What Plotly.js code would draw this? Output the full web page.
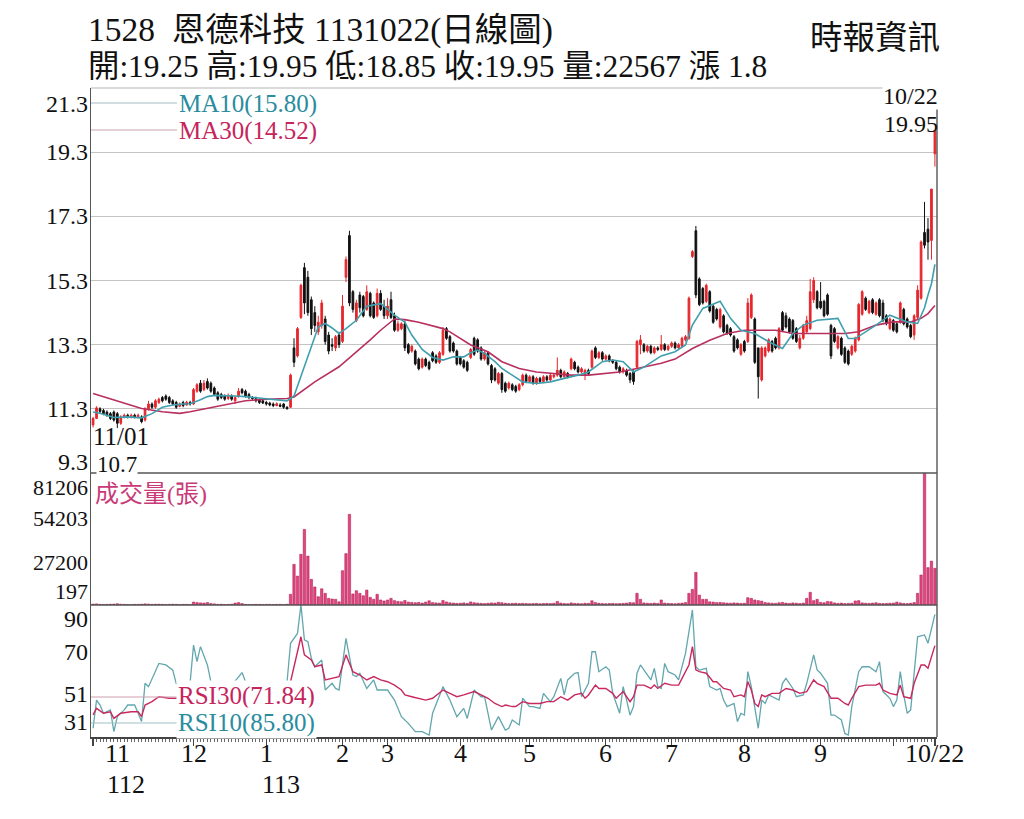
<!DOCTYPE html>
<html><head><meta charset="utf-8">
<script src="https://cdn.plot.ly/plotly-3.0.1.min.js"></script>
<style>html,body{margin:0;padding:0;background:#fff}#chart{width:1024px;height:819px}</style>
</head><body><div id="chart"></div>
<script>
// ---------- DATA ----------
const openP = [10.80,11.00,11.30,11.25,11.20,11.15,11.20,11.15,10.85,11.05,11.10,11.05,11.10,11.05,11.05,10.95,11.30,11.45,11.35,11.50,11.65,11.70,11.65,11.55,11.50,11.38,11.50,11.42,11.50,11.45,
11.85,12.10,11.90,12.15,12.10,11.95,11.80,11.75,11.70,11.62,11.70,11.55,11.68,11.90,11.85,11.75,11.65,11.62,11.58,11.55,11.50,11.48,11.45,11.40,11.42,11.45,11.35,11.35,13.20,12.95,
14.15,15.70,15.40,14.70,14.30,13.70,13.90,14.10,13.60,13.30,13.20,13.60,13.40,15.40,16.70,14.95,14.05,14.85,14.80,14.40,14.90,14.60,14.20,14.90,14.50,14.20,14.70,14.20,13.75,13.80,
13.95,13.30,13.10,13.10,12.85,12.60,12.85,12.75,13.05,12.95,12.75,13.00,13.80,13.55,13.35,13.10,12.90,12.80,12.75,12.90,13.50,13.45,13.20,12.85,13.05,12.65,12.55,12.10,12.40,12.10,
11.95,12.05,12.00,11.90,12.05,12.35,12.15,12.30,12.10,12.25,12.15,12.30,12.20,12.30,12.35,12.50,12.30,12.40,12.55,12.75,12.60,12.45,12.35,12.50,12.60,13.20,12.90,13.05,12.85,12.95,
12.80,12.75,12.60,12.45,12.50,12.40,12.45,12.60,13.30,13.30,13.10,13.25,13.05,13.20,13.15,13.30,13.15,13.25,13.35,13.20,13.25,13.45,13.50,16.05,16.85,15.35,15.05,14.65,14.95,14.50,
14.40,13.85,14.20,13.90,13.80,13.55,13.45,13.00,13.40,13.40,14.15,14.10,13.20,12.20,12.95,13.10,13.40,13.50,13.20,14.30,14.20,14.10,14.05,13.80,13.20,13.50,13.70,13.80,14.70,14.95,
14.65,14.65,14.85,13.90,13.80,13.20,13.50,13.20,13.10,13.00,13.10,13.45,14.25,14.75,14.30,14.70,14.25,14.70,14.60,14.20,13.80,14.05,13.95,14.00,14.40,14.10,13.90,13.60,14.15,14.75,
16.80,16.90,16.55,19.25];
const highP = [11.05,11.38,11.35,11.30,11.25,11.20,11.25,11.20,11.10,11.15,11.15,11.15,11.15,11.15,11.10,11.35,11.55,11.50,11.60,11.65,11.70,11.75,11.70,11.60,11.55,11.50,11.55,11.55,11.55,11.95,
12.10,12.20,12.20,12.25,12.15,12.00,11.85,11.80,11.75,11.78,11.75,11.70,11.95,11.95,11.90,11.80,11.70,11.68,11.62,11.60,11.55,11.52,11.50,11.50,11.48,11.48,11.38,12.40,13.50,13.85,
15.20,15.85,15.60,14.80,14.50,14.20,14.70,14.20,13.70,13.50,13.60,13.70,14.85,16.05,16.85,15.00,14.70,14.95,14.85,15.15,14.95,14.65,15.05,15.00,14.70,14.75,14.95,14.30,14.05,14.00,
14.05,13.35,13.30,13.15,12.90,12.90,12.90,12.80,13.10,13.00,13.10,13.85,13.85,13.60,13.40,13.15,12.95,12.85,12.80,13.20,13.55,13.50,13.25,13.10,13.10,12.70,12.60,12.45,12.45,12.15,
12.15,12.10,12.05,12.10,12.40,12.40,12.35,12.35,12.30,12.30,12.35,12.35,12.40,12.40,12.90,12.55,12.50,12.45,12.90,12.80,12.65,12.60,12.55,12.55,13.15,13.25,13.10,13.10,13.00,13.00,
12.85,12.80,12.65,12.60,12.55,12.45,12.50,13.45,13.60,13.35,13.30,13.30,13.25,13.25,13.60,13.35,13.30,13.40,13.40,13.35,13.55,13.60,14.80,16.25,17.00,15.40,15.10,15.20,15.00,14.55,
14.45,14.45,14.25,13.95,13.85,13.60,13.50,13.35,13.45,14.75,14.90,14.15,13.20,13.25,13.25,13.50,13.45,13.55,13.85,14.35,14.30,14.15,14.10,13.85,13.60,13.95,14.20,15.35,15.40,15.00,
15.25,14.70,14.90,13.95,13.85,13.60,13.55,13.25,13.15,13.30,13.55,14.60,15.00,14.80,14.70,14.75,14.65,14.75,14.70,14.25,14.15,14.10,14.00,14.65,14.45,14.15,13.95,14.25,15.15,16.55,
17.75,17.25,18.15,19.95];
const lowP = [10.72,10.98,11.15,11.10,11.05,10.95,10.90,10.70,10.80,11.00,11.00,11.00,11.00,11.00,10.85,10.90,11.25,11.30,11.30,11.45,11.50,11.55,11.45,11.40,11.30,11.35,11.35,11.40,11.40,11.42,
11.80,11.80,11.85,11.90,11.80,11.70,11.55,11.60,11.55,11.58,11.55,11.45,11.65,11.75,11.65,11.60,11.58,11.50,11.45,11.45,11.40,11.38,11.35,11.38,11.35,11.30,11.28,11.33,12.60,12.90,
14.10,14.25,14.20,13.60,13.70,13.60,13.80,13.30,13.00,13.10,13.10,13.20,13.35,15.25,14.50,14.30,14.00,14.30,14.15,14.35,14.15,14.10,14.15,14.35,14.10,14.10,14.10,13.70,13.70,13.75,
13.10,13.00,13.05,12.65,12.50,12.55,12.60,12.50,12.75,12.70,12.70,12.95,13.45,13.05,13.05,12.65,12.65,12.55,12.45,12.85,12.95,13.05,12.80,12.80,12.65,12.10,12.15,12.05,11.80,11.80,
11.90,11.85,11.80,11.85,12.00,12.10,12.10,12.05,12.05,12.10,12.10,12.15,12.15,12.25,12.30,12.25,12.25,12.25,12.50,12.50,12.40,12.40,12.20,12.35,12.55,12.85,12.85,12.80,12.80,12.75,
12.70,12.50,12.40,12.40,12.30,12.10,12.05,12.55,13.00,13.05,13.05,13.00,13.00,13.10,13.10,13.10,13.10,13.20,13.15,13.15,13.20,13.40,13.45,16.00,14.75,14.50,14.55,14.60,14.30,13.95,
14.05,13.80,13.65,13.60,13.55,13.05,13.15,12.95,13.05,13.35,14.10,12.70,11.62,12.15,12.90,13.05,13.05,13.15,13.15,13.70,13.80,13.65,13.45,13.35,13.15,13.45,13.65,13.75,14.60,14.40,
14.40,14.15,14.20,12.85,13.35,13.15,12.95,12.70,12.65,12.95,13.05,13.40,14.20,14.35,14.25,14.25,14.20,14.15,14.00,13.90,13.75,13.70,13.65,13.95,13.90,13.80,13.50,13.45,14.10,14.70,
16.30,15.95,15.95,18.85];
const closeP = [11.00,11.33,11.22,11.15,11.10,11.00,10.95,10.85,11.05,11.10,11.05,11.10,11.05,11.10,10.90,11.30,11.45,11.35,11.55,11.60,11.55,11.60,11.50,11.45,11.35,11.45,11.40,11.50,11.45,11.90,
12.05,11.85,12.10,11.95,11.85,11.75,11.60,11.65,11.60,11.72,11.60,11.65,11.85,11.80,11.70,11.65,11.62,11.55,11.50,11.48,11.45,11.42,11.40,11.46,11.38,11.35,11.30,12.35,12.75,13.80,
15.15,14.60,14.30,13.80,13.90,14.00,14.60,13.40,13.10,13.25,13.55,13.30,14.50,15.95,14.60,14.40,14.60,14.45,14.20,14.95,14.20,14.15,14.90,14.40,14.20,14.50,14.15,13.75,13.95,13.95,
13.20,13.05,13.25,12.70,12.55,12.85,12.65,12.55,12.80,12.75,13.05,13.75,13.50,13.10,13.10,12.70,12.70,12.60,12.50,13.15,13.00,13.10,12.85,13.05,12.70,12.20,12.20,12.40,11.90,11.85,
12.10,11.90,11.85,12.05,12.35,12.15,12.30,12.10,12.25,12.15,12.30,12.20,12.35,12.35,12.50,12.30,12.45,12.30,12.85,12.55,12.45,12.55,12.50,12.40,13.10,12.90,13.05,12.85,12.95,12.80,
12.75,12.55,12.45,12.55,12.35,12.20,12.15,13.40,13.45,13.10,13.25,13.05,13.20,13.15,13.30,13.15,13.25,13.35,13.20,13.30,13.50,13.55,14.75,16.20,14.85,14.55,14.60,15.15,14.35,14.00,
14.10,14.40,13.70,13.65,13.60,13.10,13.20,13.30,13.10,14.60,14.85,12.75,12.30,13.20,13.20,13.45,13.10,13.20,13.80,13.75,13.85,13.70,13.50,13.40,13.50,13.90,14.05,14.95,15.30,14.45,
14.45,14.20,14.25,12.95,13.40,13.55,13.00,12.75,12.70,13.25,13.50,14.55,14.95,14.40,14.65,14.30,14.60,14.20,14.05,13.95,14.10,13.75,13.70,14.60,13.95,13.85,13.55,14.20,15.00,16.50,
16.40,16.50,18.15,19.95];
const volume = [600,700,400,300,400,500,600,800,500,400,300,300,400,400,500,700,600,400,500,500,400,300,400,500,400,300,400,400,300,
1800,1500,1300,1200,1500,900,700, 400,500,300,400,500, 1200,1500,900,
400,300,300,400,400,300,400,400,300,400,400,300,500,
6600,25000,17800,31200,46500,30100,15800,11100,5100,10000,7200,4100,3700,3500,2000,21100,31600,55800,6800,8800,7200,5700,9200,4700,3500,6600,3100,
2500,3100,4100,2700,2200,2000,2800,1800,1600,
1400,1600,1200,1800,2600,1500,1300,1200,2800,1900,1400,1200,1000,1100,1300,1000,1900,1400,1200,1000,900,1100,1300,1200,1700,1400,1100,900,1000,1100,900,
1000,900,800,900,1000,800,900,1000,900,1100,2200,1200,900,800,1300,1000,900,800,1100,1000,2600,1500,1100,900,800,900,1000,800,900,1000,1200,1500,
1400,7200,3500,1300,1100,1000,1200,1000,3100,1200,1000,900,800,1000,1200,1500,
7200,9600,20100,6100,3500,3500,2000,1800,1500,1600,1400,1200,1100,1300,1200,1000,1100,4500,4100,3100,2700,2400,
1500,1300,1100,1000,1400,1600,1200,1000,1300,1100,900,1200,
4100,7800,2700,3500,1600,1400,2200,2000,1300,1000,1200,900,1000,1100,
2500,2700,1300,1100,1000,1200,1400,1000,900,1000,1100,1200,1800,1300,1000,900,1100,1500,
7200,18450,81206,23000,27000,22567];

const ma10Day = [0,2,6,10,14,17,20,23,26,28,31,33,35,38,41,44,47,50,53,56,58,60,63,65,67,69,71,73,76,79,83,84,87,90,92,95,98,101,104,107,109,111,113,116,118,121,124,128,132,136,140,143,147,150,153,156,159,164,168,171,173,176,181,184,187,191,195,199,202,205,209,215,218,220,226,230,235,238,240,241,242,243];
const ma10Val = [11.20,11.16,11.03,11.05,11.02,11.15,11.35,11.42,11.45,11.46,11.58,11.68,11.72,11.72,11.70,11.68,11.65,11.62,11.58,11.55,11.70,12.30,13.20,13.85,13.96,13.82,13.65,13.80,14.06,14.50,14.58,14.50,14.22,14.00,13.60,13.15,12.90,12.82,12.92,12.92,13.05,13.13,13.03,12.77,12.56,12.35,12.14,12.09,12.14,12.25,12.35,12.45,12.77,12.82,12.77,12.45,12.60,12.95,13.08,13.29,13.91,14.43,14.65,14.12,13.75,13.65,13.39,13.18,13.65,13.91,14.06,14.12,13.49,13.49,13.91,14.22,14.01,13.96,14.45,14.85,15.20,15.80];
const ma30Day = [0,6,14,20,25,28,35,40,44,50,56,58,64,71,78,80,83,87,90,94,101,103,109,114,118,123,128,134,138,143,147,152,157,162,164,168,173,178,183,188,193,197,202,207,212,217,221,226,231,236,239,241,243];
const ma30Val = [11.78,11.57,11.31,11.21,11.16,11.21,11.36,11.47,11.55,11.60,11.62,11.67,12.14,12.61,13.25,13.45,13.75,14.10,14.08,14.00,13.80,13.70,13.29,13.08,12.77,12.56,12.45,12.40,12.35,12.35,12.40,12.45,12.56,12.68,12.72,12.85,13.18,13.44,13.65,13.75,13.75,13.75,13.65,13.65,13.65,13.65,13.70,13.91,14.01,14.01,14.12,14.27,14.52];

const rsi10Day = [0,1,2,3,5,6,7,9,10,12,14,15,16,19,21,23,24,26,28,29,30,31,33,34,37,39,41,43,44,48,52,55,56,57,59,60,61,62,63,64,66,67,69,70,71,73,75,76,77,79,81,82,85,87,89,91,93,95,97,98,101,103,105,107,108,110,112,113,115,117,119,120,121,123,124,126,127,129,130,132,133,135,136,137,139,140,141,143,144,145,146,148,149,150,152,153,154,155,156,157,158,160,161,162,163,164,165,166,168,169,170,171,173,174,175,177,178,180,181,182,183,185,186,187,188,189,190,191,192,193,194,195,197,198,199,200,202,203,205,206,208,209,210,212,213,214,216,217,218,219,221,222,224,226,227,228,230,231,232,233,234,235,236,238,240,241,243];
const rsi10Val = [34.9,47.5,45.3,41.6,43.1,33.4,40.1,43.1,45.3,45.3,37.9,55.0,53.5,63.9,63.2,60.9,55.0,54.5,55.0,72.1,64.7,71.4,63.2,55.7,50.0,52.0,56.0,59.8,55.7,50.0,48.0,47.0,55.7,72.9,77.3,90.0,74.4,73.6,66.2,62.4,65.4,52.0,55.0,52.7,52.0,75.1,58.7,58.0,59.5,52.7,56.5,52.0,52.0,47.5,40.1,37.1,33.4,33.4,31.9,41.6,53.5,47.5,40.1,43.8,39.3,52.0,49.0,49.0,34.1,40.1,34.1,34.9,38.6,36.4,48.3,44.6,44.6,43.8,50.5,46.8,49.0,57.2,49.8,56.5,59.5,59.8,49.0,55.0,69.1,69.1,60.2,62.4,60.9,50.5,41.6,53.5,47.5,40.8,44.6,59.5,63.2,58.7,56.5,61.7,53.5,52.7,63.9,60.2,58.7,56.5,62.4,68.4,87.8,62.4,60.9,61.7,53.5,52.0,52.7,47.5,44.6,46.0,37.9,41.6,40.8,60.2,53.5,43.1,34.9,47.5,46.0,49.8,48.3,47.5,55.0,57.2,52.7,49.0,49.8,55.0,67.7,61.0,59.5,55.0,40.8,40.8,38.6,32.6,31.9,44.6,60.2,62.4,62.4,60.2,64.7,51.3,48.3,44.6,47.5,60.2,49.8,41.6,43.1,75.8,76.6,72.9,85.8];
const rsi30Day = [0,1,3,5,6,8,11,13,14,15,17,19,22,24,30,35,40,45,50,55,57,58,59,60,61,63,64,66,67,69,71,73,75,77,79,81,83,85,87,89,90,92,94,96,98,101,103,105,107,110,112,114,116,118,119,121,122,124,126,129,131,133,135,137,139,141,142,143,145,146,148,150,151,153,155,156,157,159,161,162,163,165,167,169,170,172,173,174,175,177,179,180,182,184,185,187,188,189,190,191,192,193,194,196,198,200,202,204,206,208,209,211,213,215,217,218,219,221,223,226,227,228,230,232,233,234,236,237,239,240,241,243];
const rsi30Val = [40.9,43.8,41.6,42.3,39.3,41.6,42.3,42.3,40.1,45.3,46.8,49.0,48.3,48.3,52.0,50.0,50.0,50.5,48.0,47.0,55.7,62.4,67.7,75.8,67.7,65.4,62.4,63.2,56.5,57.2,58.0,67.7,60.2,58.7,56.5,58.0,56.5,55.7,54.2,52.0,49.8,49.0,48.3,47.5,48.3,52.0,50.5,49.0,49.8,51.3,49.8,48.3,46.0,44.6,45.3,44.6,44.6,46.8,46.0,46.0,46.8,46.8,49.0,47.5,49.8,50.5,48.3,49.8,54.2,52.7,52.7,50.5,48.3,51.3,46.8,49.0,54.2,54.2,52.7,54.2,52.7,55.0,54.2,54.2,57.2,63.2,71.4,61.0,60.2,59.5,55.7,55.7,52.7,52.0,49.0,49.8,49.0,55.7,52.0,46.0,44.6,49.8,49.0,50.5,50.5,52.7,52.0,50.5,51.3,56.5,55.0,53.5,48.3,48.3,46.0,45.3,48.3,53.5,54.2,54.2,55.0,52.0,50.5,49.8,54.2,49.0,48.3,55.0,63.2,63.2,61.7,71.84];

const priceTicks = [21.3,19.3,17.3,15.3,13.3,11.3,9.3];
const volTicks = [81206,54203,27200,197];
const rsiTicks = [90,70,51,31];
const monthDay = [7,29,50,72,85,106,126,148,167,188,210,231,243];
const monthText = ['11','12','1','2','3','4','5','6','7','8','9','','10/22'];
const majorTickDay = [0,29,50,72,85,106,126,148,167,188,210,231,243];
const yearDay = [7,50];
const yearText = ['112','113'];

const titleText = '1528  恩德科技 1131022(日線圖)';
const infoText = '開:19.25 高:19.95 低:18.85 收:19.95 量:22567 漲 1.8';
const sourceText = '時報資訊';
const ma10Label = 'MA10(15.80)', ma30Label = 'MA30(14.52)';
const rsi30Label = 'RSI30(71.84)', rsi10Label = 'RSI10(85.80)';
const volLabel = '成交量(張)';
const lastDate = '10/22', lastHigh = '19.95';
const lowDate = '11/01', lowVal = '10.7';

// ---------- STYLE ----------
const FONT = '"Liberation Serif", "Noto Sans CJK TC", serif';
const L = 91, R = 937, T = 88, B = 737;
const W = R - L, H = B - T;
const px = x => (x - L) / W, py = y => (B - y) / H;
const dVolTop = py(473), dRsiTop = py(605);
const TEAL = '#2a8d9e', CRIM = '#c6245c';

const days = closeP.map((_, i) => i);

const traces = [
  {type:'candlestick', x: days, open: openP, high: highP, low: lowP, close: closeP,
   xaxis:'x', yaxis:'y', whiskerwidth:0,
   increasing:{line:{color:'#e5262c', width:1}, fillcolor:'#e5262c'},
   decreasing:{line:{color:'#111111', width:1}, fillcolor:'#111111'}, hoverinfo:'skip'},
  {type:'scatter', mode:'lines', x: ma30Day, y: ma30Val, xaxis:'x', yaxis:'y', line:{color:'#b8305f', width:1.6}, hoverinfo:'skip'},
  {type:'scatter', mode:'lines', x: ma10Day, y: ma10Val, xaxis:'x', yaxis:'y', line:{color:'#3f9fae', width:1.6}, hoverinfo:'skip'},
  {type:'bar', x: days, y: volume, xaxis:'x', yaxis:'y2', marker:{color:'#e2457f', line:{color:'#a8164c', width:0.5}}, hoverinfo:'skip'},
  {type:'scatter', mode:'lines', x: rsi10Day, y: rsi10Val, xaxis:'x', yaxis:'y3', line:{color:'#62a6ae', width:1.3}, hoverinfo:'skip'},
  {type:'scatter', mode:'lines', x: rsi30Day, y: rsi30Val, xaxis:'x', yaxis:'y3', line:{color:'#c8285e', width:1.4}, hoverinfo:'skip'}
];

const ann = [];
function txt(text, x, y, o) {
  const a = {text, x: px(x), y: py(y), xref:'paper', yref:'paper', showarrow:false,
    xanchor:'left', yanchor:'middle', font:{family:FONT, size:22, color:'#111'}};
  return Object.assign(a, o || {});
}
ann.push(txt(titleText, 86, 30, {font:{family:FONT, size:33.5, color:'#111'}}));
ann.push(txt(infoText, 86, 67, {font:{family:FONT, size:31.4, color:'#111'}}));
ann.push(txt(sourceText, 942, 38, {xanchor:'right', font:{family:FONT, size:32.5, color:'#111'}}));

// y labels placed through the axes' own scales
const pShift = {21.3:-16, 9.3:11};
priceTicks.forEach(v => ann.push({text:String(v), x:0, xref:'paper', xanchor:'right', xshift:-2, y:v, yref:'y', yanchor:'middle', yshift: pShift[v] || 0, showarrow:false, font:{family:FONT, size:24, color:'#111'}, bgcolor: v===9.3 ? '#fff' : 'rgba(0,0,0,0)', borderpad:0}));
const vShift = {81206:-14, 197:13};
volTicks.forEach(v => ann.push({text:String(v), x:0, xref:'paper', xanchor:'right', xshift:-2, y:v, yref:'y2', yanchor:'middle', yshift: vShift[v] || -2, showarrow:false, font:{family:FONT, size:22, color:'#111'}, borderpad:0}));
const rShift = {90:-14, 31:15};
rsiTicks.forEach(v => ann.push({text:String(v), x:0, xref:'paper', xanchor:'right', xshift:-2, y:v, yref:'y3', yanchor:'middle', yshift: rShift[v] || -2, showarrow:false, font:{family:FONT, size:24, color:'#111'}, borderpad:0}));

// month and year labels on the x scale
monthDay.forEach((d, i) => { if (monthText[i]) ann.push({text: monthText[i], x: d, xref:'x', y: py(769), yref:'paper', xanchor:'center', yanchor:'bottom', borderpad:0, showarrow:false, font:{family:FONT, size:26, color:'#111'}}); });
ann.push({text: yearText[0], x: yearDay[0], xref:'x', xshift:-11, y: py(769), yref:'paper', xanchor:'left', yanchor:'top', borderpad:0, showarrow:false, font:{family:FONT, size:26, color:'#111'}});
ann.push({text: yearText[1], x: yearDay[1], xref:'x', xshift:-5, y: py(769), yref:'paper', xanchor:'left', yanchor:'top', borderpad:0, showarrow:false, font:{family:FONT, size:26, color:'#111'}});

// legends and markers
ann.push(txt(ma10Label, 177, 104, {font:{family:FONT, size:25, color:TEAL}}));
ann.push(txt(ma30Label, 177, 131, {font:{family:FONT, size:25, color:CRIM}}));
ann.push(txt(lastDate, 939, 110, {xanchor:'right', yanchor:'bottom', borderpad:0, font:{family:FONT, size:24, color:'#111'}, bgcolor:'#fff'}));
ann.push(txt(lastHigh, 939, 110, {xanchor:'right', yanchor:'top', borderpad:0, font:{family:FONT, size:24, color:'#111'}}));
ann.push(txt(lowDate, 92, 451, {yanchor:'bottom', borderpad:0, font:{family:FONT, size:25, color:'#111'}}));
ann.push(txt(lowVal, 96, 451, {yanchor:'top', font:{family:FONT, size:23, color:'#111'}, bgcolor:'#fff', borderpad:0}));
ann.push(txt(volLabel, 94, 494, {font:{family:FONT, size:24, color:'#c93a78'}, borderpad:0}));
ann.push(txt(rsi30Label, 176, 696, {font:{family:FONT, size:25, color:CRIM}, bgcolor:'#fff', borderpad:1}));
ann.push(txt(rsi10Label, 176, 723, {font:{family:FONT, size:25, color:TEAL}, bgcolor:'#fff', borderpad:1}));

const shapes = [
  {type:'line', xref:'paper', yref:'paper', x0:0, x1:1, y0:1, y1:1, line:{color:'#b5b5b5', width:1.2}},
  {type:'line', xref:'paper', yref:'paper', x0:0, x1:1, y0:dVolTop, y1:dVolTop, line:{color:'#555', width:1.6}},
  {type:'line', xref:'paper', yref:'paper', x0:0, x1:1, y0:dRsiTop, y1:dRsiTop, line:{color:'#555', width:1.6}},
  {type:'line', xref:'paper', yref:'paper', x0:1, x1:1, y0:0, y1:1, line:{color:'#555', width:1.4}},
  {type:'line', xref:'paper', yref:'paper', x0:0, x1:px(177), y0:py(103), y1:py(103), line:{color:'#a3bcc4', width:1.2}},
  {type:'line', xref:'paper', yref:'paper', x0:0, x1:px(177), y0:py(130), y1:py(130), line:{color:'#c9a2b2', width:1.2}},
  {type:'line', xref:'paper', yref:'paper', x0:0, x1:px(177), y0:py(697), y1:py(697), line:{color:'#cfa0b2', width:1.2}},
  {type:'line', xref:'paper', yref:'paper', x0:0, x1:px(177), y0:py(723), y1:py(723), line:{color:'#9fc2c8', width:1.2}}
];

const layout = {
  width:1024, height:819, margin:{l:L, r:1024-R, t:T, b:819-B, pad:0},
  paper_bgcolor:'#fff', plot_bgcolor:'#fff', showlegend:false, hovermode:false,
  bargap:0.3,
  xaxis:{domain:[0,1], range:[-0.6, 243.6], anchor:'y3', rangeslider:{visible:false},
    showline:true, linecolor:'#444', linewidth:1.5, ticks:'outside', tickvals: majorTickDay, ticklen:7, tickwidth:1.2, tickcolor:'#444',
    showticklabels:false, showgrid:false, zeroline:false,
    minor:{ticks:'outside', ticklen:3, tickwidth:1, tickcolor:'#666', tick0:0, dtick:1, showgrid:false}},
  yaxis:{domain:[dVolTop, 1], range:[9.3, 21.3], tickvals:[11.3,13.3,15.3,17.3,19.3], showticklabels:false, ticks:'',
    showgrid:true, gridcolor:'#c4c4c4', gridwidth:1.2, zeroline:false, showline:true, linecolor:'#555', linewidth:1.4},
  yaxis2:{domain:[dRsiTop, dVolTop], range:[0, 81206], showticklabels:false, ticks:'', showgrid:false, zeroline:false,
    showline:true, linecolor:'#555', linewidth:1.4},
  yaxis3:{domain:[0, dRsiTop], range:[31, 90], showticklabels:false, ticks:'', showgrid:false, zeroline:false,
    showline:true, linecolor:'#555', linewidth:1.4},
  annotations: ann, shapes: shapes
};

Plotly.newPlot('chart', traces, layout, {staticPlot:true, displayModeBar:false});
</script></body></html>
